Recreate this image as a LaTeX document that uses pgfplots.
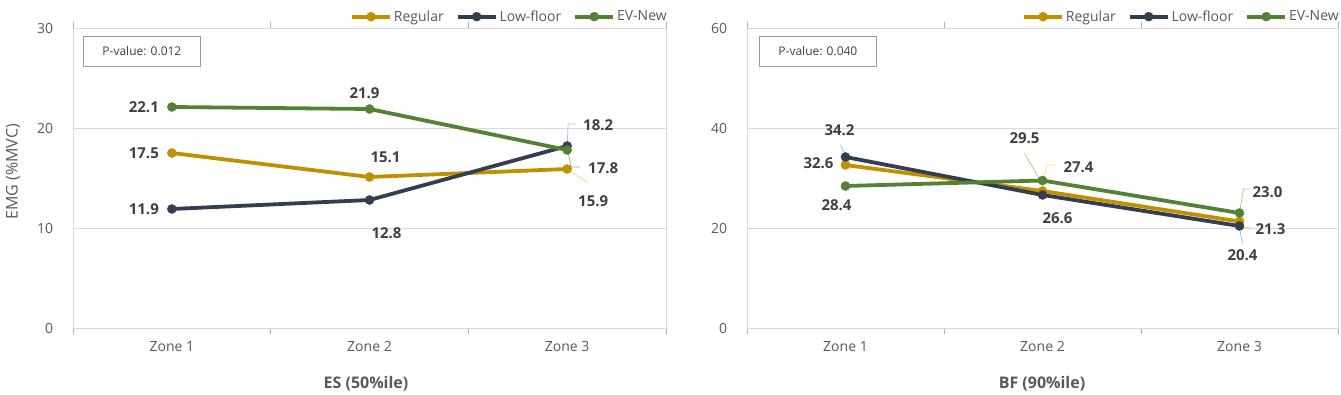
\documentclass[border=0pt]{standalone}
\usepackage{fontspec}
\setmainfont{Open Sans}
\usepackage{pgfplots}
\usepackage{pgfplotstable}
\pgfplotsset{compat=1.18}
\definecolor{reg}{HTML}{BF9000}
\definecolor{low}{HTML}{333F50}
\definecolor{ev}{HTML}{548235}
\definecolor{tickgray}{HTML}{595959}
\definecolor{lblgray}{HTML}{404040}
\definecolor{gridgray}{HTML}{D9D9D9}
\definecolor{ldblue}{HTML}{9DC3E6}
\definecolor{ldyel}{HTML}{FFD966}
\definecolor{ldgreen}{HTML}{A9D18E}
\definecolor{ldgray}{HTML}{A6A6A6}

% ES (50%ile)
\pgfplotstableread{
x y dx dy
0 17.5 -28 0
1 15.1 16 20
2 15.9 26 -32
}\esReg
\pgfplotstableread{
x y dx dy
0 11.9 -28 0
1 12.8 17 -33
2 18.2 31 21
}\esLow
\pgfplotstableread{
x y dx dy
0 22.1 -28 0
1 21.9 -5 16
2 17.8 36 -18
}\esEv
% BF (90%ile)
\pgfplotstableread{
x y dx dy
0 32.6 -27 2
1 27.4 36 24
2 21.3 31 -8
}\bfReg
\pgfplotstableread{
x y dx dy
0 34.2 -6 27
1 26.6 15 -23
2 20.4 3 -29
}\bfLow
\pgfplotstableread{
x y dx dy
0 28.4 -9 -19
1 29.5 -18 42
2 23.0 28 21
}\bfEv

\pgfplotsset{
  panel/.style={
    scale only axis, height=300pt,
    xmin=-0.5, xmax=2.5, xtick={0,1,2}, xticklabels={Zone 1,Zone 2,Zone 3},
    minor xtick={-0.5,0.5,1.5,2.5},
    major x tick style={draw=none},
    minor x tick style={draw=gridgray!80!black, line width=0.8pt},
    tick align=outside, minor tick length=6pt,
    ytick style={draw=none},
    ymajorgrids, grid style={gridgray, line width=0.8pt},
    axis line style={gridgray, line width=0.8pt},
    ticklabel style={font=\fontsize{14}{16}\selectfont, text=tickgray},
    /pgf/number format/assume math mode=true,
    xticklabel style={yshift=-6pt},
    yticklabel style={xshift=-12pt},
    clip=false,
    legend style={at={(rel axis cs:1.005,1)}, anchor=south east, yshift=3pt,
      draw=none, fill=none, font=\fontsize{14}{16}\selectfont, text=tickgray,
      legend columns=3, inner sep=0pt,
      /tikz/every even column/.append style={column sep=10pt}},
    legend cell align=left,
    legend image code/.code={\draw[mark repeat=2,mark phase=2,#1] plot coordinates {(0pt,0pt) (19pt,0pt) (38pt,0pt)};},
  },
  ser/.style={line width=3.8pt, color=#1, mark=*, mark size=4.5pt,
    mark options={fill=#1, draw=#1, line width=0.5pt, solid}},
  lab/.style={
    nodes near coords={\pgfmathprintnumber[fixed,fixed zerofill,precision=1]{\pgfplotspointmeta}},
    point meta=y,
    visualization depends on={\thisrow{dx}\as\dx},
    visualization depends on={\thisrow{dy}\as\dy},
    nodes near coords style={font=\fontsize{15}{17}\selectfont\bfseries, text=lblgray,
      anchor=center, xshift=\dx pt, yshift=\dy pt}},
}

\begin{document}
\begin{tikzpicture}
\path[use as bounding box] (0,0) rectangle (1341pt,394pt);

\begin{axis}[panel, width=593pt, at={(73pt,66pt)}, anchor=south west,
  ymin=0, ymax=30, ytick={0,10,20,30}]
\addplot[ser=reg, lab] table[x=x,y=y] {\esReg};
\addplot[ser=low, lab] table[x=x,y=y] {\esLow};
\addplot[ser=ev, lab] table[x=x,y=y] {\esEv};
\legend{Regular,Low-floor,EV-New}
\draw[ldblue, line width=0.8pt] (axis cs:2,18.2) -- ++(1pt,22pt) -- ++(8pt,0pt);
\draw[ldgray, line width=0.8pt] (axis cs:2,17.8) ++(1pt,-3pt) -- ++(3pt,-14pt) -- ++(9pt,0pt);
\draw[ldyel, line width=0.8pt] (axis cs:2,15.9) ++(4pt,-3pt) -- ++(17pt,-11pt);
\node[draw=gridgray!70!black, line width=0.8pt, anchor=north west, minimum width=117pt, minimum height=30pt,
  font=\fontsize{12}{14}\selectfont, text=lblgray] at ([xshift=10pt,yshift=-8pt]rel axis cs:0,1) {P-value: 0.012};
\end{axis}

\begin{axis}[panel, width=591pt, at={(747pt,66pt)}, anchor=south west,
  ymin=0, ymax=60, ytick={0,20,40,60}]
\addplot[ser=reg, lab] table[x=x,y=y] {\bfReg};
\addplot[ser=low, lab] table[x=x,y=y] {\bfLow};
\addplot[ser=ev, lab] table[x=x,y=y] {\bfEv};
\legend{Regular,Low-floor,EV-New}
\draw[ldblue, line width=0.8pt] (axis cs:0,34.2) ++(-5pt,12pt) -- ++(4pt,-8pt);
\draw[ldyel, line width=0.8pt] (axis cs:1,27.4) ++(-1pt,0pt) -- ++(5pt,26pt) -- ++(10pt,0pt);
\draw[ldgreen, line width=0.8pt] (axis cs:1,29.5) ++(-18pt,27pt) -- ++(16pt,-27pt);
\draw[ldyel, line width=0.8pt] (axis cs:2,21.3) -- ++(3pt,-6pt) -- ++(8pt,0pt);
\draw[ldblue, line width=0.8pt] (axis cs:2,20.4) ++(0pt,-2pt) -- ++(3pt,-15pt);
\draw[ldgreen, line width=0.8pt] (axis cs:2,23.0) -- ++(4pt,24pt) -- ++(7pt,0pt);
\node[draw=gridgray!70!black, line width=0.8pt, anchor=north west, minimum width=117pt, minimum height=30pt,
  font=\fontsize{12}{14}\selectfont, text=lblgray] at ([xshift=12pt,yshift=-8pt]rel axis cs:0,1) {P-value: 0.040};
\end{axis}

\node[rotate=90, font=\fontsize{16}{18}\selectfont, text=tickgray] at (13pt,222pt) {EMG (\%MVC)};
\node[font=\fontsize{16}{18}\selectfont\bfseries, text=tickgray] at (366pt,10pt) {ES (50\%ile)};
\node[font=\fontsize{16}{18}\selectfont\bfseries, text=tickgray] at (1042pt,10pt) {BF (90\%ile)};
\end{tikzpicture}
\end{document}
